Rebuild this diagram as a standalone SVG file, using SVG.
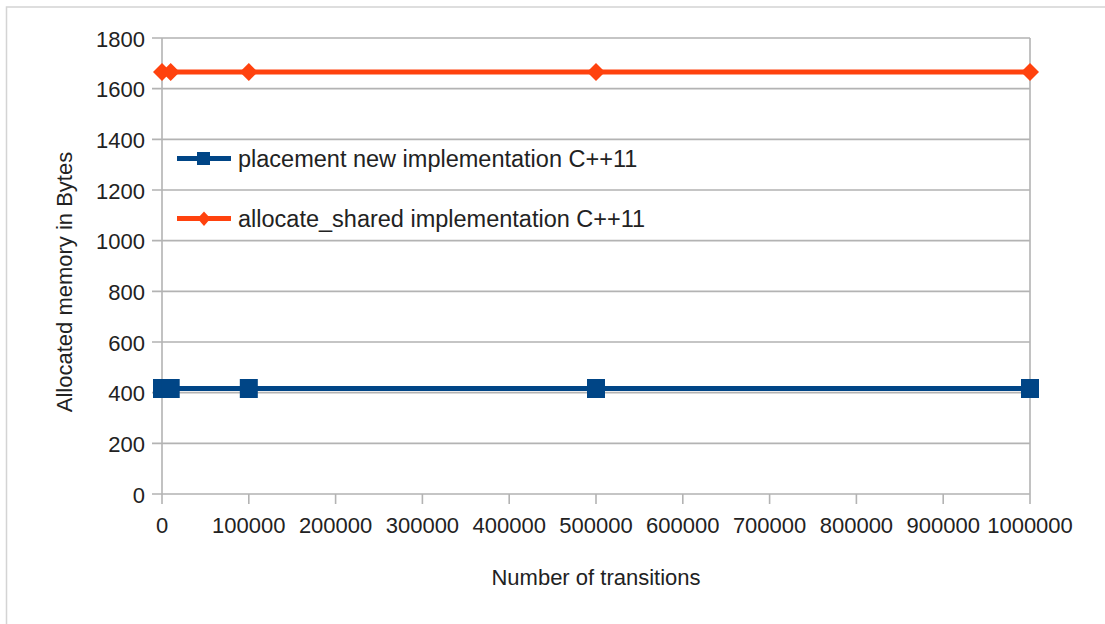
<svg xmlns="http://www.w3.org/2000/svg" width="1105" height="624" viewBox="0 0 1105 624">
  <style>
    .frame { fill: none; stroke: #d4d4d4; stroke-width: 1.5; }
    .grid { stroke: #b3b3b3; stroke-width: 1.6; fill: none; }
    .lbl { font-family: "Liberation Sans", Arial, sans-serif; font-size: 22px; fill: #222; }
    .leg { font-size: 23.5px; }
    .ytick { text-anchor: end; }
    .xtick { text-anchor: middle; }
    .s1 { stroke: #004586; stroke-width: 5; fill: none; }
    .s2 { stroke: #ff420e; stroke-width: 5; fill: none; }
    .m1 { fill: #004586; }
    .m2 { fill: #ff420e; }
  </style>
  <defs>
    <rect id="sq" x="-9" y="-9.5" width="18" height="19" class="m1"/>
    <polygon id="dm" points="0,-9 9,0 0,9 -9,0" class="m2"/>
  </defs>

  <rect width="1105" height="624" fill="#ffffff"/>
  <path class="frame" d="M6.5,624 V7 H1105"/>

  <!-- axes, gridlines and ticks -->
  <g id="axes">
    <g class="grid">
      <path d="M152,38 H1030 M152,88.67 H1030 M152,139.33 H1030 M152,190 H1030 M152,240.67 H1030 M152,291.33 H1030 M152,342 H1030 M152,392.67 H1030 M152,443.33 H1030 M152,494 H1030"/>
      <path d="M162,38 V504 M1030,38 V504"/>
      <path d="M248.8,494 V504 M335.6,494 V504 M422.4,494 V504 M509.2,494 V504 M596,494 V504 M682.8,494 V504 M769.6,494 V504 M856.4,494 V504 M943.2,494 V504"/>
    </g>
    <g class="lbl ytick">
      <text x="145" y="46.5">1800</text>
      <text x="145" y="97.2">1600</text>
      <text x="145" y="147.8">1400</text>
      <text x="145" y="198.5">1200</text>
      <text x="145" y="249.2">1000</text>
      <text x="145" y="299.8">800</text>
      <text x="145" y="350.5">600</text>
      <text x="145" y="401.2">400</text>
      <text x="145" y="451.8">200</text>
      <text x="145" y="502.5">0</text>
    </g>
    <g class="lbl xtick">
      <text x="162" y="533">0</text>
      <text x="248.8" y="533">100000</text>
      <text x="335.6" y="533">200000</text>
      <text x="422.4" y="533">300000</text>
      <text x="509.2" y="533">400000</text>
      <text x="596" y="533">500000</text>
      <text x="682.8" y="533">600000</text>
      <text x="769.6" y="533">700000</text>
      <text x="856.4" y="533">800000</text>
      <text x="943.2" y="533">900000</text>
      <text x="1030" y="533">1000000</text>
    </g>
    <text class="lbl" x="596" y="585" text-anchor="middle">Number of transitions</text>
    <text class="lbl" transform="translate(72,282) rotate(-90)" text-anchor="middle">Allocated memory in Bytes</text>
  </g>

  <!-- placement new series -->
  <g id="series-placement">
    <path class="s1" d="M162,388.5 H1030"/>
    <use href="#sq" x="162" y="388.5"/>
    <use href="#sq" x="170.7" y="388.5"/>
    <use href="#sq" x="248.8" y="388.5"/>
    <use href="#sq" x="596" y="388.5"/>
    <use href="#sq" x="1030" y="388.5"/>
  </g>

  <!-- allocate_shared series -->
  <g id="series-allocate">
    <path class="s2" d="M162,72 H1030"/>
    <use href="#dm" x="162" y="72"/>
    <use href="#dm" x="170.7" y="72"/>
    <use href="#dm" x="248.8" y="72"/>
    <use href="#dm" x="596" y="72"/>
    <use href="#dm" x="1030" y="72"/>
  </g>

  <!-- legend -->
  <g id="legend">
    <path class="s1" d="M177,158.5 H231"/>
    <rect x="197" y="152" width="13" height="13" class="m1"/>
    <text class="lbl leg" x="238" y="167">placement new implementation C++11</text>
    <path class="s2" d="M177,218.5 H231"/>
    <polygon points="204,211.5 210.5,218.5 204,226 197.5,218.5" class="m2"/>
    <text class="lbl leg" x="238" y="227">allocate_shared implementation C++11</text>
  </g>
</svg>
